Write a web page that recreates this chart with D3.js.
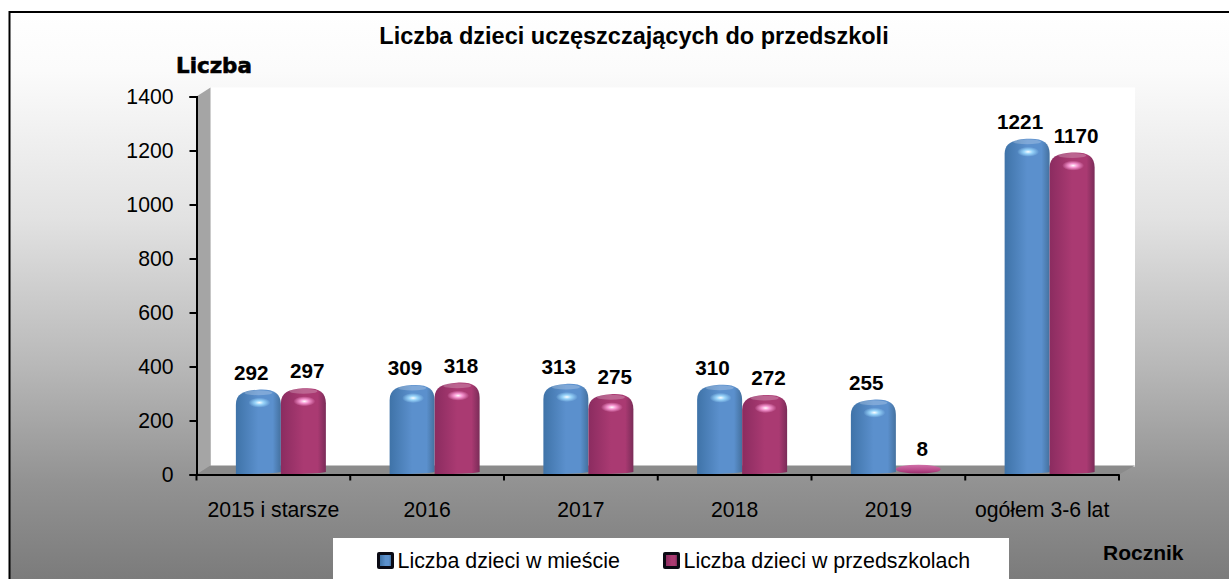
<!DOCTYPE html>
<html><head><meta charset="utf-8">
<script src="https://cdn.jsdelivr.net/npm/d3@7/dist/d3.min.js"></script>
<style>html,body{margin:0;padding:0;background:#fff;overflow:hidden}svg{display:block}text{font-family:"Liberation Sans",Arial,sans-serif;fill:#000}</style>
</head><body><div id="chart"></div>
<script>
const categories = ["2015 i starsze","2016","2017","2018","2019","ogółem 3-6 lat"];
const cityValues = [292,309,313,310,255,1221];
const schoolValues = [297,318,275,272,8,1170];
const seriesNames = ["Liczba dzieci w mieście","Liczba dzieci w przedszkolach"];
const yTicks = [0,200,400,600,800,1000,1200,1400];
const chartTitle = "Liczba dzieci uczęszczających do przedszkoli";

const W=1229,H=579;
const svg=d3.select("#chart").append("svg").attr("width",W).attr("height",H);
const defs=svg.append("defs");
const bg=defs.append("linearGradient").attr("id","bg").attr("x1",0).attr("y1",0).attr("x2",0).attr("y2",1);
[[0,"#ffffff"],[0.1,"#fbfbfb"],[0.35,"#e2e2e2"],[0.6,"#b8b8b8"],[0.8,"#929292"],[1,"#767676"]].forEach(s=>bg.append("stop").attr("offset",s[0]).attr("stop-color",s[1]));
function barGrad(id,edgeL,mid,edgeR){
  const g=defs.append("linearGradient").attr("id",id);
  [[0,edgeL],[0.5,mid],[0.82,mid],[1,edgeR]].forEach(s=>g.append("stop").attr("offset",s[0]).attr("stop-color",s[1]));
}
barGrad("blue","#3f73a8","#5b90cd","#44719f");
barGrad("mag","#8b2c60","#aa3a72","#7a2c58");
const disc=defs.append("linearGradient").attr("id","disc").attr("x1",0).attr("y1",0).attr("x2",0).attr("y2",1);
[[0,"#d070a8"],[0.6,"#b84a8a"],[1,"#98306c"]].forEach(s=>disc.append("stop").attr("offset",s[0]).attr("stop-color",s[1]));
function glow(id,c){
  const g=defs.append("radialGradient").attr("id",id);
  g.append("stop").attr("offset",0).attr("stop-color","#fff").attr("stop-opacity",1);
  g.append("stop").attr("offset",0.4).attr("stop-color",c).attr("stop-opacity",.9);
  g.append("stop").attr("offset",1).attr("stop-color",c).attr("stop-opacity",0);
}
glow("gb","#9fdcff");glow("gm","#ffa0dc");

svg.append("rect").attr("x",9.5).attr("y",12).attr("width",W+10).attr("height",H+10).attr("fill","url(#bg)").attr("stroke","#000").attr("stroke-width",2);

const x=d3.scaleBand().domain(categories).range([196.5,1119]);
const y=d3.scaleLinear().domain([0,1400]).range([474.5,96.5]);
const x1=d3.scaleBand().domain(seriesNames).range([-45,45]);
const lift=6;

// walls
const wall=svg.append("g");
const base=y(0), topY=y(1400), xL=x.range()[0], xR=x.range()[1];
wall.append("rect").attr("x",xL+14).attr("y",topY-9).attr("width",xR-xL+2).attr("height",base-topY+1).attr("fill","#fff");
wall.append("path").attr("d",`M${xL},${topY}L${xL+14},${topY-9}V${base-9}L${xL},${base}Z`).attr("fill","#a5a5a5");
wall.append("path").attr("d",`M${xL},${base}L${xL+14},${base-9}H${xR+16}L${xR},${base}Z`).attr("fill","#8b8b8b");

function barPath(cx,v){
  const w=x1.bandwidth(), l=cx, r=cx+w, t=y(v)-lift, b=base-.5, h=b-t;
  if(h<20){
    const m=(t+b)/2-1, ry=(b-t)/2+.5;
    return `M${l},${m}A${w/2},${ry} 0 1 1 ${r},${m}A${w/2},${ry} 0 1 1 ${l},${m}Z`;
  }
  return `M${l},${b}V${t+15}C${l},${t+4} ${l+8},${t+1} ${l+22},${t}C${r-8},${t-1} ${r},${t+3} ${r},${t+15}V${b-2}Q${r-10},${b} ${l+4},${b}Z`;
}
const groups=[
 {name:seriesNames[0],values:cityValues,fill:"url(#blue)",g:"url(#gb)",dx:-7},
 {name:seriesNames[1],values:schoolValues,fill:"url(#mag)",g:"url(#gm)",dx:4}
];
const centre=c=>x(c)+x.bandwidth()/2+7.5;
groups.forEach(s=>{
  const gg=svg.append("g");
  gg.selectAll("path").data(categories).join("path")
    .attr("d",(c,i)=>barPath(centre(c)+x1(s.name),s.values[i]))
    .attr("fill",(c,i)=>s.values[i]>50?s.fill:"url(#disc)");
  const tall=categories.filter((c,i)=>s.values[i]>50);
  gg.selectAll("ellipse.cap").data(tall).join("ellipse").attr("class","cap")
    .attr("cx",c=>centre(c)+x1(s.name)+x1.bandwidth()/2)
    .attr("cy",c=>y(s.values[categories.indexOf(c)])-lift+3)
    .attr("rx",14).attr("ry",2.5).attr("fill","#fff").attr("opacity",.22);
  gg.selectAll("ellipse.hi").data(tall).join("ellipse").attr("class","hi")
    .attr("cx",c=>centre(c)+x1(s.name)+x1.bandwidth()/2+1)
    .attr("cy",c=>y(s.values[categories.indexOf(c)])-lift+13)
    .attr("rx",11).attr("ry",5).attr("fill",s.g);
  svg.append("g").selectAll("text").data(categories).join("text")
    .attr("x",c=>centre(c)+x1(s.name)+x1.bandwidth()/2+s.dx)
    .attr("y",(c,i)=>y(s.values[i])-lift-10)
    .attr("text-anchor","middle").attr("font-weight","bold").attr("font-size",20.7)
    .text((c,i)=>s.values[i]);
});

// axes
const ay=d3.axisLeft(y).tickValues(yTicks).tickSize(7).tickPadding(16).tickFormat(d3.format("d"));
const gy=svg.append("g").attr("transform",`translate(${xL},0)`).call(ay);
const tickX=d3.scaleLinear().domain([0,6]).range(x.range());
const ax=d3.axisBottom(x).tickSize(0).tickPadding(27);
const gx=svg.append("g").attr("transform",`translate(0,${base})`).call(ax);
gx.selectAll(".tick-mark").data(d3.range(7)).join("line").attr("class","tick-mark")
  .attr("x1",d=>tickX(d)).attr("x2",d=>tickX(d)).attr("y1",0).attr("y2",6).attr("stroke","#000").attr("stroke-width",2);
[gy,gx].forEach(g=>{
  g.selectAll(".domain").attr("stroke","#000").attr("stroke-width",2);
  g.selectAll(".tick line").attr("stroke","#000").attr("stroke-width",2);
  g.selectAll("text").attr("font-size",21.2).attr("font-family",'"Liberation Sans"');
});
gy.selectAll("text").attr("dy","0.34em");

svg.append("text").attr("x",634).attr("y",44).attr("text-anchor","middle").attr("font-weight","bold").attr("font-size",23.5).text(chartTitle);
svg.append("text").attr("x",176).attr("y",73).attr("font-size",21.4).attr("font-weight","bold")
  .style("font-family",'"DejaVu Sans"').attr("stroke","#000").attr("stroke-width",.6).text("Liczba");
svg.append("text").attr("x",1103).attr("y",560).attr("font-weight","bold").attr("font-size",21).text("Rocznik");

// legend
svg.append("rect").attr("x",333).attr("y",538).attr("width",676).attr("height",41).attr("fill","#fff");
const lx=[377,663];
const lg=svg.append("g").selectAll("g").data(groups).join("g").attr("transform",(d,i)=>`translate(${lx[i]},552)`);
lg.append("rect").attr("width",17).attr("height",17).attr("rx",2).attr("fill","#0a0a14");
lg.append("rect").attr("x",3).attr("y",3).attr("width",11).attr("height",11).attr("fill",d=>d.fill);
lg.append("text").attr("x",20.5).attr("y",16).attr("font-size",21.4).text(d=>d.name);
</script></body></html>
